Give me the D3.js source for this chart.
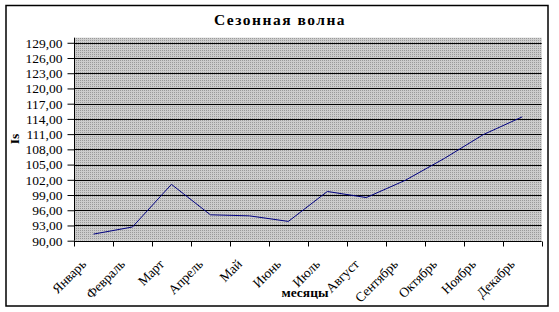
<!DOCTYPE html>
<html><head><meta charset="utf-8">
<script src="https://cdn.jsdelivr.net/npm/d3@7/dist/d3.min.js"></script>
<style>body{margin:0;background:#fff}svg{display:block}</style>
</head><body>
<script>
const months = ["Январь","Февраль","Март","Апрель","Май","Июнь","Июль","Август","Сентябрь","Октябрь","Ноябрь","Декабрь"];
const values = [91.3, 92.7, 101.1, 95.1, 94.9, 93.8, 99.7, 98.5, 101.9, 106.2, 110.9, 114.4];
const yTicks = [90,93,96,99,102,105,108,111,114,117,120,123,126,129];
const title = "Сезонная волна";
const xTitle = "месяцы";
const yTitle = "Is";

const FF = "'Liberation Serif', 'Times New Roman', 'DejaVu Serif', serif";
const W = 559, H = 312;
const m = {left:74, right:541.7, top:37.7, bottom:240.7};
const svg = d3.select("body").append("svg").attr("width",W).attr("height",H).attr("font-family",FF);

const defs = svg.append("defs");
const pat = defs.append("pattern").attr("id","dots").attr("patternUnits","userSpaceOnUse").attr("width",2).attr("height",2);
pat.append("rect").attr("width",2).attr("height",2).attr("fill","#cccccc");
pat.append("rect").attr("width",1).attr("height",1).attr("fill","#999999");

svg.append("rect").attr("x",6).attr("y",5.5).attr("width",542).attr("height",300.5)
  .attr("fill","#fff").attr("stroke","#000").attr("stroke-width",1.5);

const x = d3.scaleBand().domain(months).range([m.left,m.right]).padding(0);
const y = d3.scaleLinear().domain([90,130]).range([m.bottom,m.top]);

svg.append("rect").attr("x",m.left).attr("y",m.top).attr("width",m.right-m.left).attr("height",m.bottom-m.top)
  .attr("fill","url(#dots)");

// gridlines
svg.append("g").selectAll("line").data(yTicks.filter(d=>d>90)).join("line")
  .attr("x1",m.left).attr("x2",m.right).attr("y1",d=>Math.round(y(d))+0.5).attr("y2",d=>Math.round(y(d))+0.5)
  .attr("stroke","#000").attr("stroke-width",1);

// y axis
const yAxis = d3.axisLeft(y).tickValues(yTicks).tickSize(7).tickFormat(d=>d3.format(".2f")(d).replace(".",","));
const gy = svg.append("g").attr("transform",`translate(${m.left+0.5},0)`).call(yAxis).attr("font-family",FF);
gy.select(".domain").attr("stroke","#000").attr("d",`M0,${m.top}V${m.bottom}`);
gy.selectAll(".tick line").attr("stroke","#000");
gy.selectAll(".tick text").attr("font-size",13.5).attr("fill","#000").attr("x",-12).attr("font-family",FF);

// x axis
const xAxis = d3.axisBottom(x).tickSize(0).tickFormat("");
const gx = svg.append("g").attr("transform",`translate(0,${Math.round(m.bottom)+0.5})`).call(xAxis);
gx.select(".domain").attr("stroke","#000").attr("d",`M${m.left},0H${m.right}`);
const bounds = months.map(d=>x(d)).concat([m.right]);
gx.selectAll("line.ct").data(bounds).join("line").attr("class","ct")
  .attr("x1",d=>Math.round(d)+0.5).attr("x2",d=>Math.round(d)+0.5).attr("y1",0).attr("y2",5).attr("stroke","#000");

// x labels rotated
svg.append("g").selectAll("text").data(months).join("text")
  .attr("transform",d=>`translate(${x(d)+x.bandwidth()/2-6.5},265) rotate(-45)`)
  .attr("text-anchor","end").attr("font-size",13.5).attr("font-family",FF).attr("fill","#000").text(d=>d);

// line
const line = d3.line().x((d,i)=>x(months[i])+x.bandwidth()/2).y(d=>y(d));
svg.append("path").datum(values).attr("d",line).attr("fill","none").attr("stroke","#000080").attr("stroke-width",1);

// titles
svg.append("text").attr("x",280).attr("y",24.5).attr("text-anchor","middle").attr("font-size",15.5).attr("font-family",FF)
  .attr("font-weight","bold").attr("letter-spacing","1.5px").text(title);
svg.append("text").attr("x",305).attr("y",297).attr("text-anchor","middle").attr("font-size",13.5).attr("font-family",FF)
  .attr("font-weight","bold").text(xTitle);
svg.append("text").attr("transform","translate(19,139) rotate(-90)").attr("text-anchor","middle").attr("font-size",13.5).attr("font-family",FF)
  .attr("font-weight","bold").text(yTitle);
</script>
</body></html>
